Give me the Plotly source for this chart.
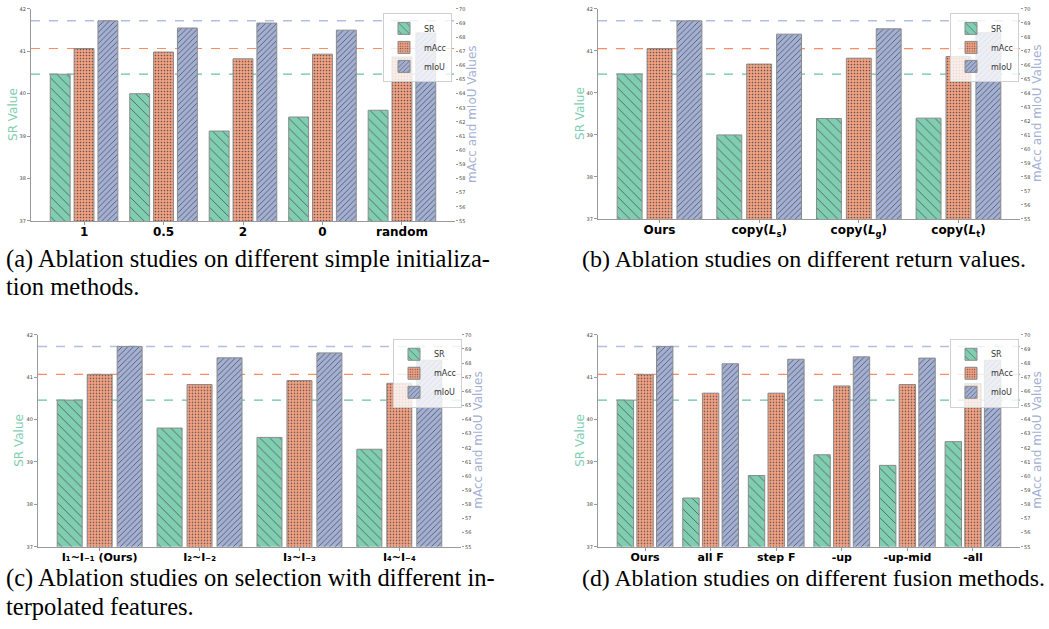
import plotly.graph_objects as go

W, H = 1049, 629

# ---------------- data ----------------
series_names = ["SR", "mAcc", "mIoU"]

a_labels = ["1", "0.5", "2", "0", "random"]
a_sr = [40.46, 40.00, 39.12, 39.45, 39.61]
a_macc = [67.20, 66.95, 66.47, 66.80, 66.60]
a_miou = [69.16, 68.65, 69.00, 68.50, 68.30]

b_labels = ["Ours", "copy(<i>L</i><sub>s</sub>)", "copy(<i>L</i><sub>g</sub>)", "copy(<i>L</i><sub>t</sub>)"]
b_sr = [40.45, 39.00, 39.39, 39.40]
b_macc = [67.17, 66.06, 66.48, 66.60]
b_miou = [69.15, 68.20, 68.58, 68.30]

c_labels = ["I₁~I₋₁ (Ours)", "I₂~I₋₂", "I₃~I₋₃", "I₄~I₋₄"]
c_sr = [40.46, 39.80, 39.58, 39.30]
c_macc = [67.20, 66.48, 66.76, 66.57]
c_miou = [69.18, 68.37, 68.72, 68.20]

d_labels = ["Ours", "all F", "step F", "-up", "-up-mid", "-all"]
d_sr = [40.46, 38.15, 38.68, 39.17, 38.92, 39.48]
d_macc = [67.20, 65.87, 65.87, 66.38, 66.48, 66.55]
d_miou = [69.18, 67.95, 68.27, 68.44, 68.35, 68.20]

captions = [
    ["(a) Ablation studies on different simple initializa-", "tion methods."],
    ["(b) Ablation studies on different return values."],
    ["(c) Ablation studies on selection with different in-", "terpolated features."],
    ["(d) Ablation studies on different fusion methods."],
]

sr_ticks = [37, 38, 39, 40, 41, 42]
right_ticks = list(range(55, 71))

# ---------------- style / layout ----------------
C_SR = "#80ceb2"
C_MACC = "#f6a283"
C_MIOU = "#a3b0d5"
LINE_SR = "#66c2a5"
LINE_MACC = "#fc8d62"
LINE_MIOU = "#b3bfe0"
EDGE = "#8a8a8a"
HATCH = "#4d4d4d"

# plot boxes in pixels: (x0, x1, y0_top, y1_bottom)
boxes = [
    (31, 455, 6, 220),
    (598, 1020, 6, 218),
    (38, 461, 335, 549),
    (598, 1020, 335, 549),
]
sr_title_pos = [(13, 113), (580, 112), (19, 442), (580, 442)]
r_title_pos = [(472, 113), (1037, 112), (478, 442), (1037, 442)]
legend_pos = [(452, 10), (1019, 10), (462, 339), (1019, 339)]
cap_pos = [(4, [258, 286]), (580, [258]), (4, [581, 609]), (580, [581])]
cap_size = [24.5, 24, 24.5, 23.8]
tick_size = [12, 12, 11, 11]

panels = [
    (a_labels, a_sr, a_macc, a_miou),
    (b_labels, b_sr, b_macc, b_miou),
    (c_labels, c_sr, c_macc, c_miou),
    (d_labels, d_sr, d_macc, d_miou),
]

BW = 0.25
OFFS = [-0.3, 0.0, 0.3]
patterns = [
    dict(shape="\\", size=7, solidity=0.12),
    dict(shape=".", size=3, solidity=0.25),
    dict(shape="/", size=4, solidity=0.22),
]
fills = [C_SR, C_MACC, C_MIOU]


def px(x):
    return x / W


def py(y):
    return 1 - y / H


fig = go.Figure()
layout = {}
shapes = []
annotations = []

for k, (labels, sr, macc, miou) in enumerate(panels):
    n = len(labels)
    xa = "x" if k == 0 else f"x{k + 1}"
    ya = f"y{2 * k + 1}" if k > 0 else "y"
    yb = f"y{2 * k + 2}"
    leg = "legend" if k == 0 else f"legend{k + 1}"
    xs = list(range(n))
    vals = [sr, macc, miou]
    yrefs = [ya, yb, yb]
    for s in range(3):
        pat = dict(patterns[s])
        pat.update(bgcolor=fills[s], fgcolor=HATCH, fgopacity=0.9, fillmode="overlay")
        fig.add_trace(go.Bar(
            x=xs, y=vals[s], name=series_names[s],
            xaxis=xa, yaxis=yrefs[s],
            width=BW, offset=OFFS[s] - BW / 2,
            marker=dict(color=fills[s], line=dict(color=EDGE, width=1), pattern=pat),
            legend=leg, showlegend=True,
        ))

    x0, x1, y0, y1 = boxes[k]
    xname = "xaxis" if k == 0 else f"xaxis{k + 1}"
    yname = "yaxis" if k == 0 else f"yaxis{2 * k + 1}"
    y2name = f"yaxis{2 * k + 2}"
    pad = 0.425 + 0.05 * (n - 1 + 0.85)
    layout[xname] = dict(
        domain=[px(x0), px(x1)], anchor=ya, range=[-pad, n - 1 + pad],
        tickmode="array", tickvals=xs, ticktext=labels,
        tickfont=dict(family="DejaVu Sans", size=tick_size[k], color="black", weight="bold"),
        showline=True, linecolor="#999", linewidth=1.2, ticks="outside", ticklen=3,
        tickcolor="#999", showgrid=False, zeroline=False, fixedrange=True,
        ticklabelstandoff=-3,
    )
    layout[yname] = dict(
        domain=[py(y1), py(y0)], anchor=xa, range=[37, 42],
        tickmode="array", tickvals=sr_ticks,
        tickfont=dict(family="DejaVu Sans", size=5, color="#444"),
        showline=True, linecolor="#999", linewidth=1.2, ticks="outside", ticklen=3,
        tickcolor="#999", showgrid=False, zeroline=False,
    )
    layout[y2name] = dict(
        overlaying=ya, side="right", anchor=xa, range=[55, 70],
        tickmode="array", tickvals=right_ticks,
        tickfont=dict(family="DejaVu Sans", size=5, color="#444"),
        showline=False, ticks="outside", ticklen=2, tickcolor="#999",
        showgrid=False, zeroline=False,
    )
    # reference dashed lines at "Ours" values
    xdom = f"{xa} domain"
    for yv, yr, col, w in [(sr[0], ya, LINE_SR, 1.2), (macc[0], yb, LINE_MACC, 1.2), (miou[0], yb, LINE_MIOU, 1.5)]:
        shapes.append(dict(type="line", xref=xdom, yref=yr, x0=0, x1=1, y0=yv, y1=yv,
                           line=dict(color=col, width=w, dash="dash"), layer="below"))
    # axis titles
    sx, sy = sr_title_pos[k]
    annotations.append(dict(text="SR Value", x=px(sx), y=py(sy), xref="paper", yref="paper",
                            textangle=-90, showarrow=False, xanchor="center", yanchor="middle",
                            font=dict(family="DejaVu Sans", size=12, color=C_SR)))
    rx, ry = r_title_pos[k]
    annotations.append(dict(text="mAcc and mIoU Values", x=px(rx), y=py(ry), xref="paper", yref="paper",
                            textangle=-90, showarrow=False, xanchor="center", yanchor="middle",
                            font=dict(family="DejaVu Sans", size=12, color=C_MIOU)))
    lx, ly = legend_pos[k]
    layout[leg] = dict(x=px(lx), y=py(ly), xanchor="right", yanchor="top",
                       xref="paper", yref="paper",
                       bgcolor="rgba(255,255,255,0.8)", bordercolor="#d0d0d0", borderwidth=1,
                       font=dict(family="DejaVu Sans", size=8, color="#333"),
                       itemwidth=30, tracegroupgap=0)
    cx, cys = cap_pos[k]
    for line, cy in zip(captions[k], cys):
        annotations.append(dict(text=line, x=px(cx), y=py(cy), xref="paper", yref="paper",
                                showarrow=False, xanchor="left", yanchor="middle",
                                font=dict(family="Liberation Serif", size=cap_size[k], color="black")))

fig.update_layout(
    width=W, height=H, margin=dict(l=0, r=0, t=0, b=0),
    paper_bgcolor="white", plot_bgcolor="white",
    barmode="overlay", shapes=shapes, annotations=annotations,
    **layout,
)

fig.write_html("out.html", config={"displayModeBar": False},
               post_script="document.body.style.margin='0';")
